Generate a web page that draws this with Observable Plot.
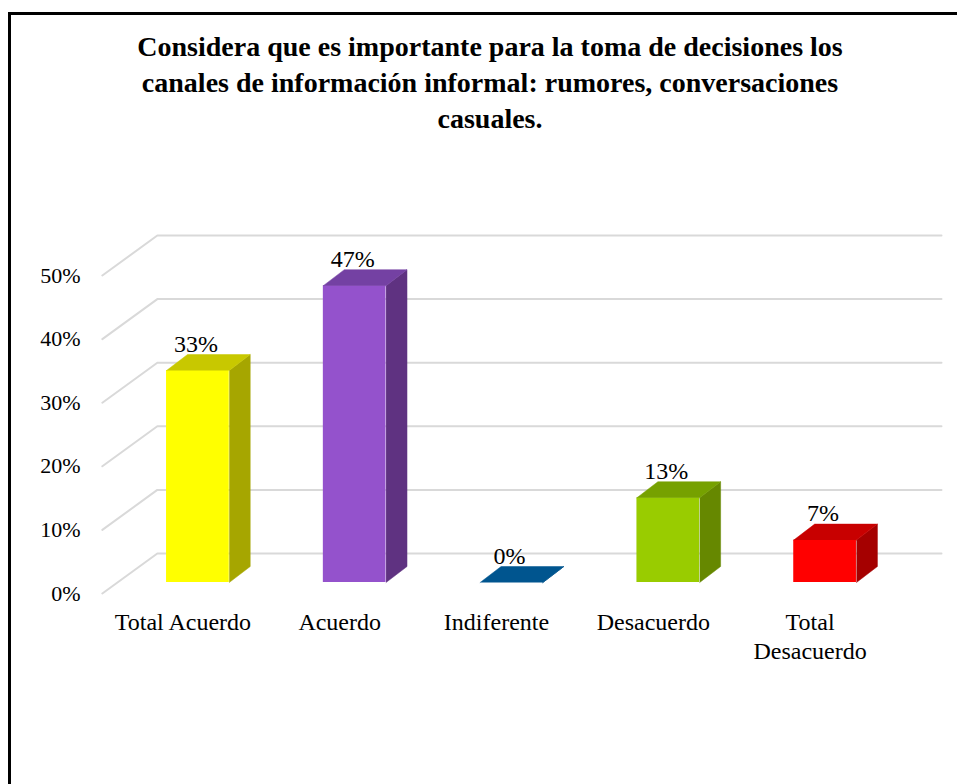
<!DOCTYPE html>
<html>
<head>
<meta charset="utf-8">
<script src="https://cdn.jsdelivr.net/npm/d3@7"></script>
<script src="https://cdn.jsdelivr.net/npm/@observablehq/plot@0.6"></script>
<style>
  html, body { margin: 0; padding: 0; background: #fff; }
  #wrap { position: relative; width: 957px; height: 784px; overflow: hidden; background: #fff;
          font-family: "Liberation Serif", "Times New Roman", serif; color: #000; }
  #frame { position: absolute; left: 8px; top: 12px; width: 1200px; height: 1200px;
           border-left: 3px solid #000; border-top: 3px solid #000; pointer-events: none; }
  #title { position: relative; width: 980px; height: 121px; padding-top: 29px; text-align: center;
           font-family: "Liberation Serif", "Times New Roman", serif;
           font-weight: bold; font-size: 28px; line-height: 36px; }
  #chart svg { display: block; }
</style>
</head>
<body>
<div id="wrap">
  <div id="title"></div>
  <div id="chart"></div>
  <div id="frame"></div>
</div>
<script>
// ---- data ----
const categories = ["Total Acuerdo", "Acuerdo", "Indiferente", "Desacuerdo", "Total Desacuerdo"];
const tickLabels = ["Total Acuerdo", "Acuerdo", "Indiferente", "Desacuerdo", "Total\nDesacuerdo"];
const values = [33.33, 46.67, 0, 13.33, 6.67];
const frontColors = ["#FFFF00", "#9452CC", "#0070C0", "#99CC00", "#FF0000"];
const sideColors  = ["#A6A600", "#5F3281", "#004A80", "#668800", "#A50000"];
const topColors   = ["#C8C800", "#7441A3", "#00558F", "#76A100", "#C80000"];
const yTicks = [0, 10, 20, 30, 40, 50];
const titleLines = [
  "Considera que es importante para la toma de decisiones los",
  "canales de información informal: rumores, conversaciones",
  "casuales."
];

document.getElementById("title").innerHTML = titleLines.join("<br>");

// ---- layout / pseudo-3D projection ----
const W = 957, H = 634;
const mL = 119, mR = 54, mT = 114, mB = 202;
const pxPerCat = (W - mL - mR) / 5;   // x domain [-0.5, 4.5]
const pxPerPct = (H - mT - mB) / 50;  // y domain [0, 50]
const BAR_HALF = 0.2, BAR_DEPTH = 16, BAR_SLANT = 1.31;
const WALL_DEPTH = 29, FRONT_DEPTH = -11, WALL_SLANT = 1.375;
const WALL_X0 = -0.513, WALL_X1 = 4.488;

function proj(c, v, d, k) { return {x: c + d * k / pxPerCat, y: v + d / pxPerPct}; }

const bars = categories.map((name, i) => ({
  i, name, v: values[i], label: tickLabels[i],
  front: frontColors[i], side: sideColors[i], top: topColors[i]
}));

const faces = [];
bars.forEach(b => {
  const l = b.i - BAR_HALF, r = b.i + BAR_HALF, v = b.v;
  const side = [[r, 0, 0], [r, 0, BAR_DEPTH], [r, v, BAR_DEPTH], [r, v, 0]];
  const top  = [[l, v, 0], [l, v, BAR_DEPTH], [r, v, BAR_DEPTH], [r, v, 0]];
  side.forEach(([c, vv, d]) => faces.push({id: "s" + b.i, color: b.side, ...proj(c, vv, d, BAR_SLANT)}));
  top.forEach(([c, vv, d]) => faces.push({id: "t" + b.i, color: b.top, ...proj(c, vv, d, BAR_SLANT)}));
});

const grid = [];
yTicks.forEach(t => {
  grid.push({t, ...proj(WALL_X0, t, FRONT_DEPTH, WALL_SLANT)});
  grid.push({t, ...proj(WALL_X0, t, WALL_DEPTH, WALL_SLANT)});
  grid.push({t, ...proj(WALL_X1, t, WALL_DEPTH, WALL_SLANT)});
});

const chart = Plot.plot({
  width: W, height: H,
  marginLeft: mL, marginRight: mR, marginTop: mT, marginBottom: mB,
  x: {type: "linear", domain: [-0.5, 4.5], axis: null},
  y: {type: "linear", domain: [0, 50], axis: null},
  color: {type: "identity"},
  style: {fontFamily: "'Liberation Serif', 'Times New Roman', serif", color: "#000", background: "#fff", overflow: "visible"},
  marks: [
    Plot.line(grid, {x: "x", y: "y", z: "t", stroke: "#D9D9D9", strokeWidth: 2}),
    Plot.axisY(yTicks, {tickSize: 0, tickPadding: 39, dy: 11, fontSize: 22, tickFormat: d => d + "%", label: null}),
    Plot.rect(bars, {x1: d => d.i - BAR_HALF, x2: d => d.i + BAR_HALF, y1: 0, y2: "v", fill: "front"}),
    Plot.line(faces, {x: "x", y: "y", z: "id", fill: "color", stroke: "color", strokeWidth: 0.5}),
    Plot.text(bars, {x: "i", y: "v", text: d => Math.round(d.v) + "%", lineAnchor: "bottom", dy: -19, dx: -2, fontSize: 24}),
    Plot.text(bars, {x: "i", y: 0, text: "label", lineAnchor: "top", dy: 28, dx: -15, fontSize: 24, lineHeight: 1.17})
  ]
});
document.getElementById("chart").appendChild(chart);
</script>
</body>
</html>
